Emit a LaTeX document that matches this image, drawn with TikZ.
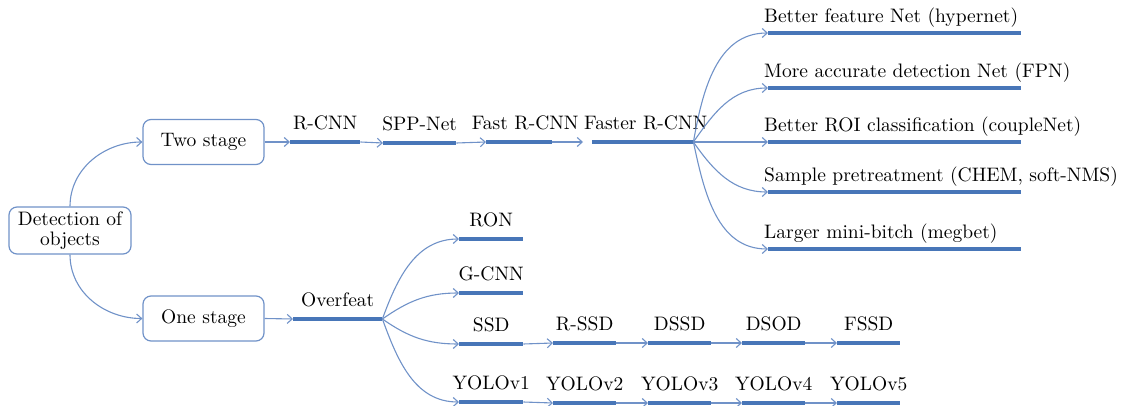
\documentclass[tikz,border=0pt]{standalone}
\usepackage{fontspec}
\setmainfont{lmroman10-regular.otf}
\usetikzlibrary{arrows.meta}
\definecolor{lineblue}{RGB}{112,146,200}
\definecolor{barblue}{RGB}{72,118,184}
\tikzset{bar/.style={fill=barblue,inner sep=0pt,minimum height=4pt,minimum width=#1,anchor=west}}
\begin{document}
\begin{tikzpicture}[x=1pt,y=1pt,font=\fontsize{19.5}{20}\selectfont]
        % Styles
        \tikzstyle{box}=[draw=lineblue,line width=1.2pt,rounded corners=8pt,minimum width=121pt,minimum height=45pt,align=center,inner sep=2pt]
        \tikzstyle{link}=[draw=lineblue,line width=1.1pt,-{Straight Barb[length=5pt,width=9pt]}]
        \tikzstyle{lbl}=[anchor=base,inner sep=0pt,yshift=10pt]
        \tikzstyle{rlbl}=[anchor=base west,inner sep=0pt,xshift=-4pt,yshift=8pt]
        \useasboundingbox (0,-406) rectangle (1125,0);
        %The graphic
        %boxes
        \node[box,minimum width=122pt,minimum height=47pt] (det) at (70,-230.5) {Detection of\\objects};
        \node[box] (two) at (203.5,-142) {Two stage};
        \node[box] (one) at (203.5,-318.5) {One stage};
        \draw[link] (det.north) to[out=90,in=180] (two.west);
        \draw[link] (det.south) to[out=-90,in=180] (one.west);
        %two stage
        \node[bar=70,label={[lbl]north:R-CNN}] (rcnn) at (290,-142) {};
        \node[bar=73,label={[lbl]north:SPP-Net}] (spp) at (383,-143) {};
        \node[bar=66,label={[lbl,xshift=6pt]north:Fast R-CNN}] (fast) at (486,-142) {};
        \node[bar=101,label={[lbl,xshift=3pt]north:Faster R-CNN}] (faster) at (592,-142) {};
        \draw[link] (two.east) -- (rcnn.west);
        \draw[link] (rcnn.east) -- (spp.west);
        \draw[link] (spp.east) -- (fast.west);
        \draw[link,shorten >=9pt] (fast.east) -- (faster.west);
        \foreach \name/\y/\txt/\ang in {hyper/33/Better feature Net (hypernet)/80,
            fpn/88/More accurate detection Net (FPN)/55,
            couple/142/Better ROI classification (coupleNet)/0,
            chem/192/{Sample pretreatment (CHEM, soft-NMS)}/-55,
            megbet/249/Larger mini-bitch (megbet)/-78}
        {
            \node[bar=253,label={[rlbl]north west:\txt}] (\name) at (768,-\y) {};
            \draw[link] (faster.east) to[out=\ang,in=180] (\name.west);
        }
        %one stage
        \node[bar=89,label={[lbl]north:Overfeat}] (overfeat) at (293,-319) {};
        \draw[link] (one.east) -- (overfeat.west);
        \foreach \name/\y/\txt/\ang in {ron/239/RON/70,gcnn/293/G-CNN/35,ssd/344/SSD/-35,yoloa/402/YOLOv1/-70}
        {
            \node[bar=64,label={[lbl]north:\txt}] (\name) at (459,-\y) {};
            \draw[link] (overfeat.east) to[out=\ang,in=180] (\name.west);
        }
        \foreach \name/\x/\txt in {rssd/553/R-SSD,dssd/648/DSSD,dsod/742/DSOD,fssd/837/FSSD}
            \node[bar=63,label={[lbl]north:\txt}] (\name) at (\x,-343) {};
        \foreach \name/\x/\txt in {yolob/553/YOLOv2,yoloc/648/YOLOv3,yolod/742/YOLOv4,yoloe/837/YOLOv5}
            \node[bar=63,label={[lbl]north:\txt}] (\name) at (\x,-403) {};
        \foreach \a/\b in {ssd/rssd,rssd/dssd,dssd/dsod,dsod/fssd,yoloa/yolob,yolob/yoloc,yoloc/yolod,yolod/yoloe}
            \draw[link] (\a.east) -- (\b.west);
\end{tikzpicture}
\end{document}
